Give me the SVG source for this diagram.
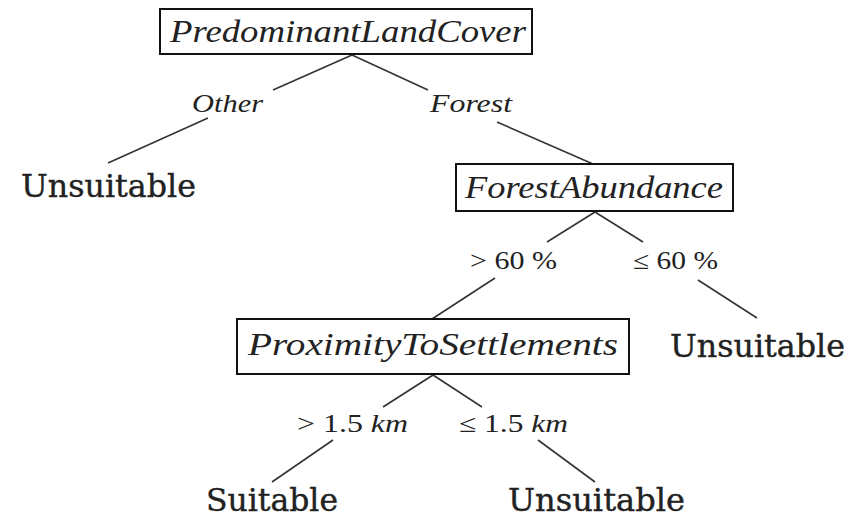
<svg xmlns="http://www.w3.org/2000/svg" width="852" height="519" viewBox="0 0 852 519">
<style>
.box{fill:#fff;stroke:#111;stroke-width:2}
.edge{stroke:#333;stroke-width:1.6;fill:none}
.var{font-family:"Liberation Serif","DejaVu Serif",serif;font-style:italic;font-size:31px;fill:#222}
.lab{font-family:"Liberation Serif","DejaVu Serif",serif;font-size:25px;fill:#222}
.it{font-style:italic}
.leaf{font-family:"DejaVu Serif","Liberation Serif",serif;font-size:31px;fill:#222;stroke:#222;stroke-width:0.4}
</style>
<rect width="852" height="519" fill="#fff"/>
<g id="connectors">
<line class="edge" x1="352" y1="55" x2="273" y2="90"/>
<line class="edge" x1="352" y1="55" x2="428" y2="90"/>
<line class="edge" x1="208" y1="118" x2="108" y2="163"/>
<line class="edge" x1="497" y1="122" x2="593" y2="164"/>
<line class="edge" x1="595" y1="212" x2="547" y2="242"/>
<line class="edge" x1="595" y1="212" x2="643" y2="242"/>
<line class="edge" x1="495" y1="278" x2="432" y2="319"/>
<line class="edge" x1="698" y1="280" x2="757" y2="318"/>
<line class="edge" x1="433" y1="375" x2="383" y2="407"/>
<line class="edge" x1="433" y1="375" x2="482" y2="407"/>
<line class="edge" x1="333" y1="440" x2="272" y2="482"/>
<line class="edge" x1="538" y1="440" x2="595" y2="482"/>
<text class="lab it" x="192" y="112" textLength="71" lengthAdjust="spacingAndGlyphs">Other</text>
<text class="lab it" x="430" y="112" textLength="82" lengthAdjust="spacingAndGlyphs">Forest</text>
<text class="lab" x="470" y="269" textLength="87" lengthAdjust="spacingAndGlyphs">&gt; 60 %</text>
<text class="lab" x="633" y="269" textLength="85" lengthAdjust="spacingAndGlyphs">≤ 60 %</text>
<text class="lab" x="297" y="432" textLength="111" lengthAdjust="spacingAndGlyphs">&gt; 1.5 <tspan class="it">km</tspan></text>
<text class="lab" x="459" y="432" textLength="109" lengthAdjust="spacingAndGlyphs">≤ 1.5 <tspan class="it">km</tspan></text>
</g>
<g id="n-root">
<rect class="box" x="160" y="9" width="372" height="45"/>
<text class="var" x="170" y="42" textLength="356" lengthAdjust="spacingAndGlyphs">PredominantLandCover</text>
</g>
<g id="n-unsuitable1">
<text class="leaf" x="21" y="197" textLength="175" lengthAdjust="spacingAndGlyphs">Unsuitable</text>
</g>
<g id="n-forestabundance">
<rect class="box" x="456" y="164" width="277" height="47"/>
<text class="var" x="465" y="198" textLength="258" lengthAdjust="spacingAndGlyphs">ForestAbundance</text>
</g>
<g id="n-unsuitable2">
<text class="leaf" x="670" y="357" textLength="175" lengthAdjust="spacingAndGlyphs">Unsuitable</text>
</g>
<g id="n-proximity">
<rect class="box" x="237" y="319" width="392" height="55"/>
<text class="var" x="248" y="355" textLength="370" lengthAdjust="spacingAndGlyphs">ProximityToSettlements</text>
</g>
<g id="n-suitable">
<text class="leaf" x="206" y="511" textLength="132" lengthAdjust="spacingAndGlyphs">Suitable</text>
</g>
<g id="n-unsuitable3">
<text class="leaf" x="508" y="511" textLength="177" lengthAdjust="spacingAndGlyphs">Unsuitable</text>
</g>
</svg>
